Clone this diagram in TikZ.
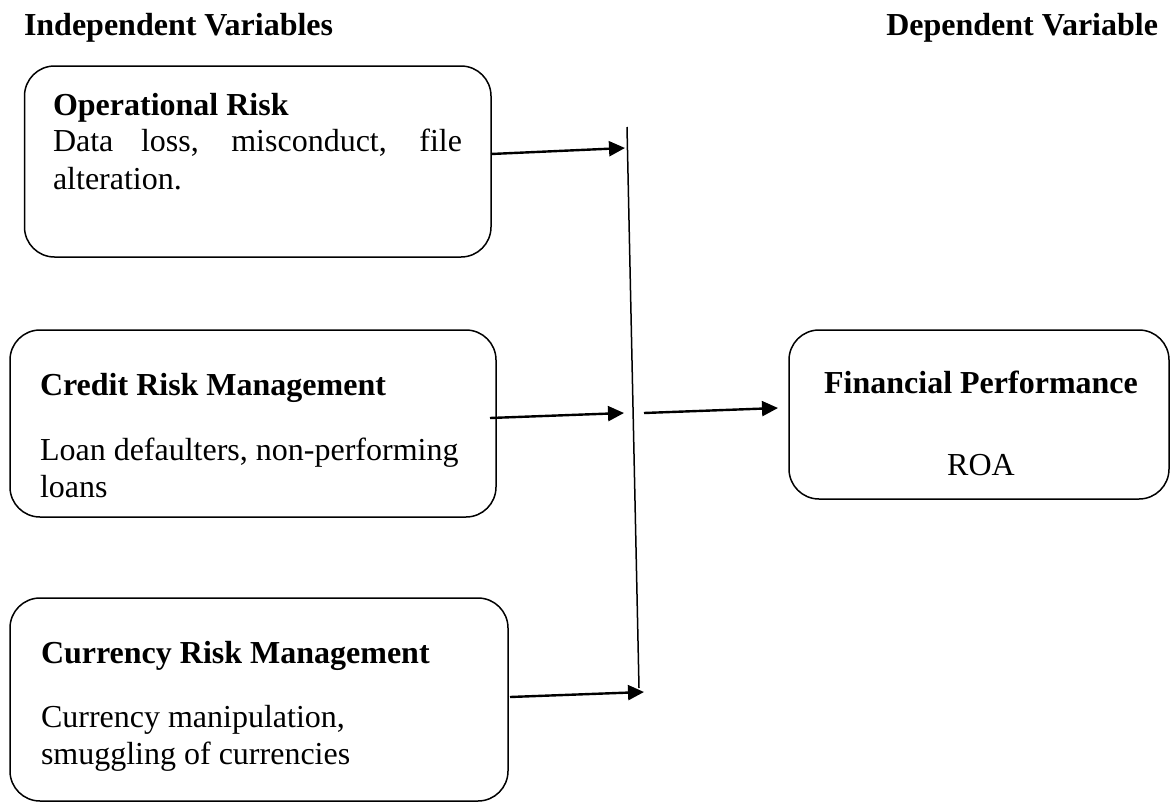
\documentclass[tikz,border=0pt]{standalone}
\usepackage{fontspec}
\setmainfont{Liberation Serif}
\usetikzlibrary{arrows.meta}
\begin{document}
\begin{tikzpicture}[x=1pt,y=-1pt,
  box/.style={draw, line width=1.5pt, rounded corners=30pt, inner sep=0pt, outer sep=0pt, anchor=north west},
  txt/.style={inner sep=0pt, outer sep=0pt, anchor=base west, font=\fontsize{32}{37}\selectfont},
  hd/.style={txt, font=\fontsize{32}{37}\selectfont\bfseries},
  arr/.style={line width=2.4pt, -{Triangle[length=16pt,width=15pt]}},
  vline/.style={line width=1.5pt}]
\useasboundingbox (0,0) rectangle (1170,803);
% headers
\node[hd] (ih) at (24,35) {Independent Variables};
\node[hd, anchor=base east] (dh) at (1158,35) {Dependent Variable};
% boxes
\node[box, minimum width=466.5pt, minimum height=191pt] (b1) at (24.5,66) {};
\node[box, minimum width=486pt, minimum height=187pt] (b2) at (10,330) {};
\node[box, minimum width=498pt, minimum height=203pt] (b3) at (10,598) {};
\node[box, minimum width=380pt, minimum height=169pt] (fp) at (789,330) {};
% box texts
\node[hd] (t1) at (53,115) {Operational Risk};
\node[txt] (t1a) at (53,151) {\makebox[409pt][s]{Data loss, misconduct, file}};
\node[txt] (t1b) at (53,189) {alteration.};
\node[hd] (t2) at (40,395) {Credit Risk Management};
\node[txt] (t2a) at (40,460) {Loan defaulters, non-performing};
\node[txt] (t2b) at (40,497) {loans};
\node[hd] (t3) at (41,663) {Currency Risk Management};
\node[txt] (t3a) at (41,727) {Currency manipulation,};
\node[txt] (t3b) at (41,764) {smuggling of currencies};
\node[hd, anchor=base] (t4) at (981,393) {Financial Performance};
\node[txt, anchor=base] (t4a) at (981,475) {ROA};
% vertical line and arrow ends
\coordinate (vt) at (627,127);
\coordinate (vb) at (639,688);
\draw[vline] (vt) -- (vb);
\coordinate (v1) at (625,148);
\coordinate (v2) at (624,413);
\coordinate (v3) at (644,692);
\coordinate (v4) at (644,413);
\draw[arr] ([yshift=7.5pt]b1.east) -- (v1);
\draw[arr] ([xshift=-6pt,yshift=5.5pt]b2.east) -- (v2);
\draw[arr] ([xshift=2pt,yshift=2.5pt]b3.east) -- (v3);
\draw[arr] (v4) -- ([xshift=-11pt,yshift=6.5pt]fp.west);
\end{tikzpicture}
\end{document}
